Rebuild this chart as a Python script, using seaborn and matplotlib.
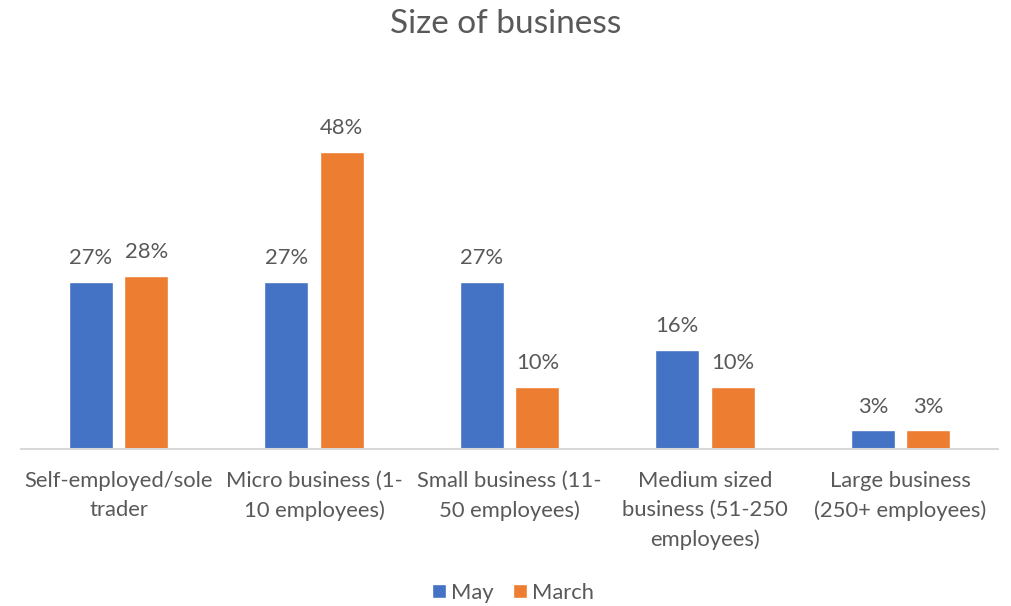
import matplotlib
matplotlib.use("Agg")
import matplotlib.pyplot as plt
import seaborn as sns
import pandas as pd

categories = [
    "Self-employed/sole\ntrader",
    "Micro business (1-\n10 employees)",
    "Small business (11-\n50 employees)",
    "Medium sized\nbusiness (51-250\nemployees)",
    "Large business\n(250+ employees)",
]
may = [27, 27, 27, 16, 3]
march = [28, 48, 10, 10, 3]
series = ["May", "March"]
colors = ["#4472C4", "#ED7D31"]

df = pd.DataFrame({
    "category": categories * 2,
    "value": may + march,
    "series": [series[0]] * len(categories) + [series[1]] * len(categories),
})

sns.set_theme(style="white")
plt.rcParams["font.family"] = ["Lato", "DejaVu Sans"]
text_color = "#595959"
fs = 15.8

fig = plt.figure(figsize=(10.12, 6.06), dpi=100)
ax = fig.add_axes([0.0205, 0.259, 0.966, 0.592])

sns.barplot(data=df, x="category", y="value", hue="series", order=categories,
            hue_order=series, palette=colors, width=0.568, gap=0.208,
            saturation=1, ax=ax, legend=True)

for cont in ax.containers:
    ax.bar_label(cont, fmt="%.0f%%", padding=10, fontsize=fs, color=text_color)

ax.set_xlim(-0.5, 4.5)
ax.set_ylim(0, 58)
ax.set_xlabel("")
ax.set_ylabel("")
ax.set_yticks([])
for s in ["top", "right", "left"]:
    ax.spines[s].set_visible(False)
ax.spines["bottom"].set_color("#d9d9d9")
ax.spines["bottom"].set_linewidth(1.5)
ax.tick_params(axis="x", length=0, pad=16, labelsize=fs, labelcolor=text_color)
for lbl in ax.get_xticklabels():
    lbl.set_linespacing(1.55)

fig.suptitle("Size of business", y=0.985, fontsize=24, color=text_color)

handles, labels = ax.get_legend_handles_labels()
ax.get_legend().remove()
fig.legend(handles, labels, loc="center", bbox_to_anchor=(0.507, 0.022), ncol=2,
           frameon=False, fontsize=fs, labelcolor=text_color,
           handlelength=0.65, handleheight=0.65, handletextpad=0.25, columnspacing=0.85)

fig.savefig("out.png", dpi=100)
